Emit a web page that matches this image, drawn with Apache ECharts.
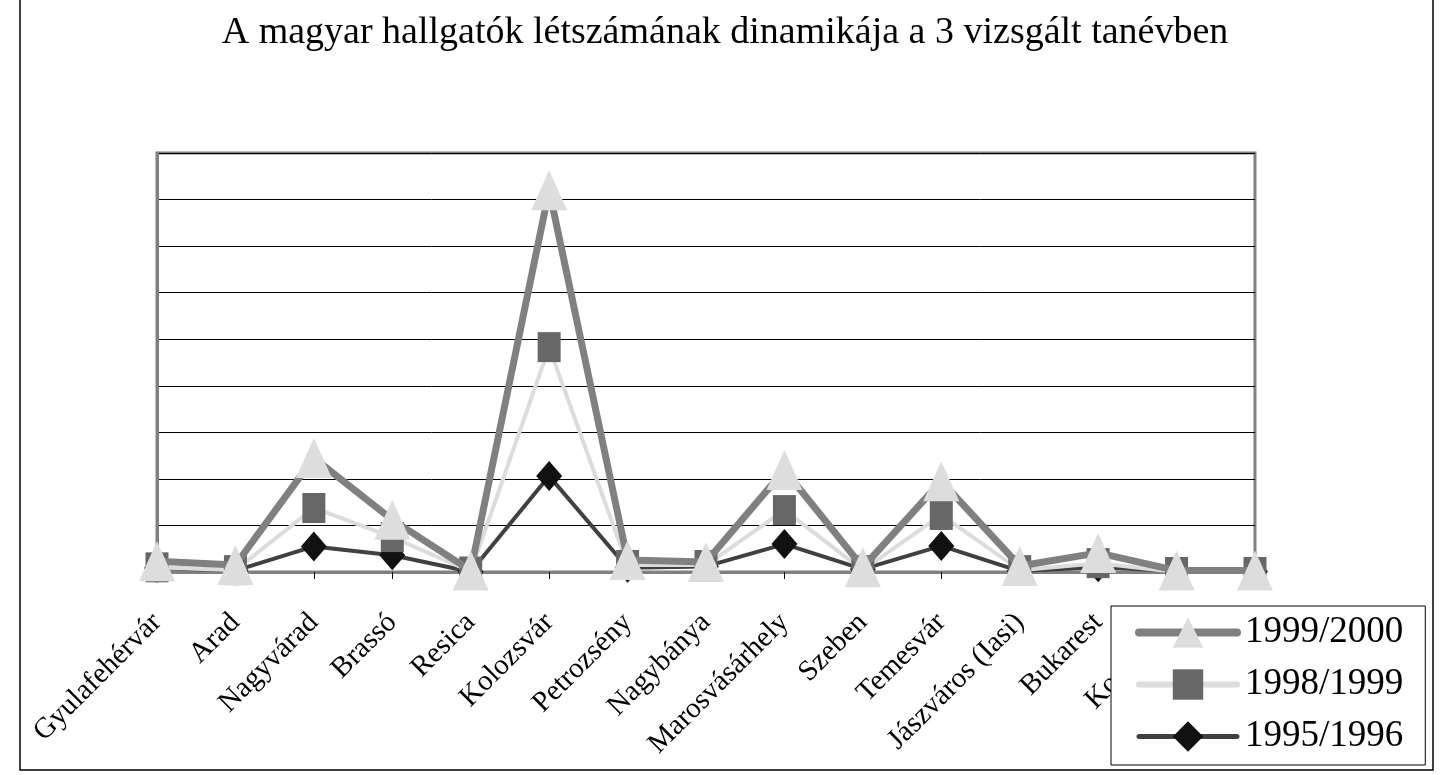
<!DOCTYPE html>
<html>
<head>
<meta charset="utf-8">
<script src="https://cdn.jsdelivr.net/npm/echarts@6/dist/echarts.min.js"></script>
<style>
html,body{margin:0;padding:0;background:#fff;}
#c{width:1450px;height:775px;}
</style>
</head>
<body>
<div id="c"></div>
<script>
var titleText = 'A magyar hallgatók létszámának dinamikája a 3 vizsgált tanévben';
var categories = ['Gyulafehérvár','Arad','Nagyvárad','Brassó','Resica','Kolozsvár','Petrozsény','Nagybánya','Marosvásárhely','Szeben','Temesvár','Jászváros (Iasi)','Bukarest','Konstanca','Craiova'];
var seriesNames = ['1999/2000','1998/1999','1995/1996'];
var s1999 = [230,150,2450,1120,30,8200,260,215,2190,100,1950,130,410,30,30];
var s1998 = [100,40,1375,750,10,4830,150,150,1330,40,1225,40,190,0,0];
var s1995 = [85,30,550,360,5,2060,90,120,600,60,560,20,100,20,10];
var yMin = 0, yMax = 9000, yStep = 1000;

var chart = echarts.init(document.getElementById('c'));
var serif = 'Liberation Serif';
chart.setOption({
  animation: false,
  backgroundColor: '#fff',
  title: {
    text: titleText,
    left: 'center',
    top: 9,
    textStyle: {fontFamily: serif, fontSize: 38, fontWeight: 'normal', color: '#000'}
  },
  graphic: [{
    type: 'rect', z: -1,
    shape: {x: 20, y: -5, width: 1413, height: 775},
    style: {fill: 'none', stroke: '#000', lineWidth: 1.5}
  }],
  grid: {
    left: 157, right: 195, top: 153, bottom: 203,
    show: true, borderColor: '#808080', borderWidth: 3, backgroundColor: 'transparent'
  },
  legend: {
    orient: 'vertical',
    left: 1111, top: 606,
    data: [
      {name: seriesNames[0], lineStyle: {width: 8, cap: 'round'}},
      {name: seriesNames[1], lineStyle: {width: 6, cap: 'round'}},
      {name: seriesNames[2], lineStyle: {width: 5, cap: 'round'}}
    ],
    padding: [8, 22, 10, 24],
    itemGap: 15,
    itemWidth: 98,
    itemHeight: 38,
    backgroundColor: '#fff',
    borderColor: '#000',
    borderWidth: 1,
    borderRadius: 0,
    z: 10,
    textStyle: {fontFamily: serif, fontSize: 37, color: '#000', padding: [0,0,0,3]}
  },
  xAxis: {
    type: 'category',
    data: categories,
    boundaryGap: false,
    axisLine: {show: true, lineStyle: {color: '#808080', width: 3}},
    axisTick: {show: true, length: 7, lineStyle: {color: '#000', width: 1}},
    axisLabel: {
      rotate: 45, interval: 0, margin: 46,
      fontFamily: serif, fontSize: 29, color: '#000',
      width: 188, overflow: 'truncate', ellipsis: ''
    },
    splitLine: {show: false}
  },
  yAxis: {
    type: 'value',
    min: yMin, max: yMax, interval: yStep,
    axisLabel: {show: false},
    axisTick: {show: false},
    axisLine: {show: true, lineStyle: {color: '#808080', width: 3}},
    splitLine: {show: true, lineStyle: {color: '#000', width: 1}}
  },
  series: [
    {
      name: seriesNames[2], type: 'line', data: s1995,
      symbol: 'diamond', symbolSize: [26, 30],
      lineStyle: {color: '#404040', width: 4},
      itemStyle: {color: '#111111'},
      z: 2
    },
    {
      name: seriesNames[1], type: 'line', data: s1998,
      symbol: 'rect', symbolSize: [23, 30],
      lineStyle: {color: '#dcdcdc', width: 4},
      itemStyle: {color: '#676767'},
      z: 3
    },
    {
      name: seriesNames[0], type: 'line', data: s1999,
      symbol: 'triangle', symbolSize: [36, 40],
      lineStyle: {color: '#808080', width: 7},
      itemStyle: {color: '#dddddd'},
      z: 4
    }
  ]
});
</script>
</body>
</html>
